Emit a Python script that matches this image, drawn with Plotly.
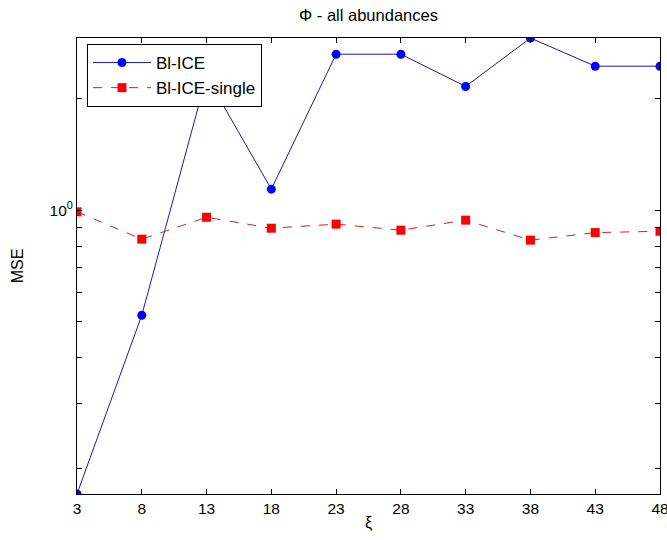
import numpy as np
import plotly.graph_objects as go

xi = [3, 8, 13, 18, 23, 28, 33, 38, 43, 48]
bl_ice = [0.171, 0.52, 2.3, 1.14, 2.64, 2.64, 2.16, 2.92, 2.45, 2.45]
bl_ice_single = [0.99, 0.835, 0.957, 0.894, 0.917, 0.883, 0.94, 0.83, 0.87, 0.877]
x_ticks = [3, 8, 13, 18, 23, 28, 33, 38, 43, 48]
y_major = [1]
y_major_text = ["10<sup>0</sup>"]
y_minor = [0.2, 0.3, 0.4, 0.5, 0.6, 0.7, 0.8, 0.9, 2]

FONT = "Liberation Sans, Arial, sans-serif"

fig = go.Figure()
fig.add_trace(go.Scatter(
    x=xi, y=bl_ice, name="Bl-ICE", mode="lines+markers",
    line=dict(color="#1a1aa8", width=1),
    marker=dict(symbol="circle", size=9, color="#0000ff"),
))
fig.add_trace(go.Scatter(
    x=xi, y=bl_ice_single, name="Bl-ICE-single", mode="lines+markers",
    line=dict(color="#d02020", width=1, dash="dash"),
    marker=dict(symbol="square", size=9, color="#ff0000"),
))

ymin = min(bl_ice + bl_ice_single)
ymax = max(bl_ice + bl_ice_single)

fig.update_layout(
    width=667, height=540,
    margin=dict(l=77, r=7, t=38, b=46),
    paper_bgcolor="white", plot_bgcolor="white",
    font=dict(family=FONT, size=15, color="black"),
    title=dict(text="Φ - all abundances", x=0.5525, xanchor="center",
               y=1 - 15 / 540, yanchor="middle", font=dict(size=16.5)),
    showlegend=True,
    legend=dict(x=10 / 583, y=1 - 6 / 456, xanchor="left", yanchor="top",
                bgcolor="white", bordercolor="black", borderwidth=1,
                font=dict(size=17), itemwidth=58, tracegroupgap=0),
)
fig.update_xaxes(
    range=[min(xi), max(xi)], tickvals=x_ticks, ticks="inside", ticklen=5,
    tickcolor="black", showline=True, linecolor="black", linewidth=1,
    mirror="ticks", showgrid=False, zeroline=False, automargin=False,
    ticklabeloverflow="allow",
    title=dict(text="ξ", standoff=1, font=dict(size=16)),
    tickfont=dict(size=15.5),
)
fig.update_yaxes(
    type="log", range=[np.log10(ymin), np.log10(ymax)],
    tickvals=y_major, ticktext=y_major_text, ticks="inside", ticklen=5,
    tickcolor="black", showline=True, linecolor="black", linewidth=1,
    mirror="ticks", showgrid=False, zeroline=False, automargin=False,
    minor=dict(tickvals=y_minor, ticks="inside", ticklen=5, tickcolor="black",
               showgrid=False),
    title=dict(text="MSE", standoff=22, font=dict(size=16)),
    tickfont=dict(size=15.5),
)

fig.write_html("out.html")
